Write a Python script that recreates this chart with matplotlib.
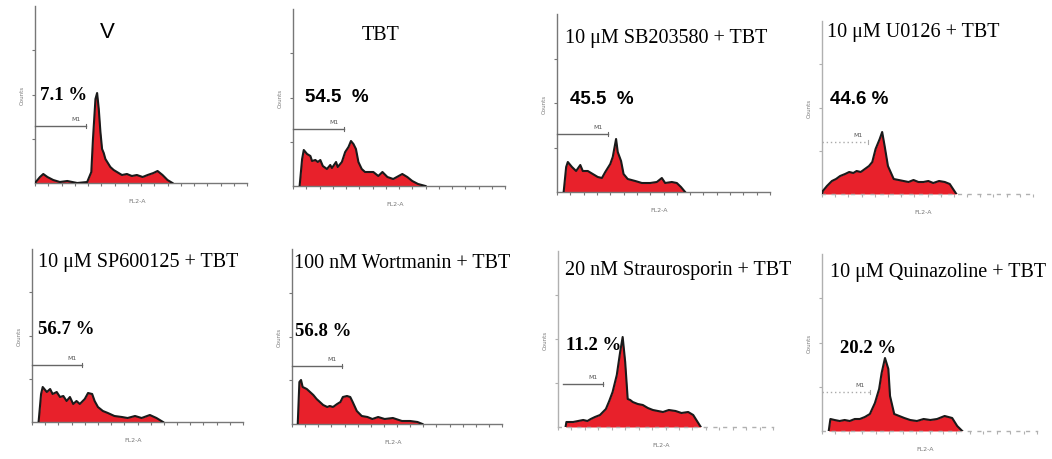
import matplotlib
matplotlib.use("Agg")
import matplotlib.pyplot as plt

# titles and gate percentages
titles = [
    "V", "TBT", "10 \u03bcM SB203580 + TBT", "10 \u03bcM U0126 + TBT",
    "10 \u03bcM SP600125 + TBT", "100 nM Wortmanin + TBT",
    "20 nM Straurosporin + TBT", "10 \u03bcM Quinazoline + TBT",
]
percents = ["7.1 %", "54.5  %", "45.5  %", "44.6 %",
            "56.7 %", "56.8 %", "11.2 %", "20.2 %"]

# FL2-A histograms: channel (0-256 bins) and counts
ch_v = [0, 6, 10, 15, 22, 30, 39, 51, 63, 68, 70, 73, 75, 77, 79, 81, 83, 85, 88, 91, 95, 99, 105, 111, 117, 123, 130, 136, 143, 148, 154, 160, 166]
ct_v = [0, 6, 9, 6, 3, 1, 2, 0, 1, 11, 44, 84, 90, 74, 51, 34, 30, 24, 20, 16, 13, 11, 8, 9, 7, 8, 6, 8, 10, 12, 8, 3, 0]

ch_tbt = [8, 11, 13, 17, 21, 23, 27, 30, 33, 36, 41, 45, 47, 52, 54, 59, 63, 67, 70, 73, 76, 79, 83, 87, 91, 97, 103, 108, 114, 121, 132, 138, 144, 151, 160]
ct_tbt = [0, 27, 36, 32, 30, 25, 26, 24, 26, 20, 17, 21, 18, 24, 19, 24, 34, 39, 45, 42, 37, 24, 17, 14, 14, 14, 10, 14, 9, 7, 12, 9, 5, 2, 0]

ch_sb = [8, 11, 13, 18, 23, 28, 31, 37, 43, 49, 54, 58, 64, 67, 71, 73, 77, 80, 85, 94, 102, 112, 120, 126, 130, 138, 144, 149, 154]
ct_sb = [0, 25, 30, 25, 21, 27, 21, 21, 18, 15, 14, 20, 28, 35, 53, 40, 31, 18, 13, 11, 9, 9, 10, 14, 9, 10, 9, 5, 0]

ch_u0 = [0, 1, 6, 12, 17, 22, 28, 33, 38, 42, 47, 52, 57, 61, 65, 70, 73, 76, 80, 87, 93, 99, 105, 111, 117, 123, 129, 135, 142, 149, 155, 163]
ct_u0 = [0, 3, 8, 13, 15, 18, 20, 22, 21, 23, 22, 25, 28, 32, 45, 55, 62, 48, 28, 15, 14, 13, 12, 14, 12, 12, 13, 11, 13, 12, 10, 0]

ch_sp = [8, 11, 13, 18, 22, 25, 30, 34, 38, 42, 46, 50, 54, 58, 64, 68, 73, 76, 80, 86, 92, 100, 109, 116, 125, 133, 143, 151, 159]
ct_sp = [0, 28, 35, 30, 33, 28, 30, 25, 26, 21, 25, 18, 21, 18, 23, 29, 28, 21, 15, 11, 9, 6, 5, 4, 6, 4, 7, 4, 0]

ch_wo = [7, 9, 11, 13, 18, 22, 26, 30, 34, 38, 43, 46, 50, 55, 59, 62, 67, 71, 74, 79, 85, 92, 98, 105, 113, 123, 134, 144, 153, 159]
ct_wo = [0, 42, 44, 37, 35, 32, 29, 25, 22, 19, 17, 18, 17, 20, 22, 27, 28, 27, 22, 13, 8, 7, 5, 7, 5, 6, 3, 3, 2, 0]

ch_st = [9, 10, 18, 24, 30, 35, 39, 44, 50, 57, 61, 65, 70, 74, 77, 80, 83, 86, 89, 95, 101, 107, 113, 119, 125, 132, 140, 147, 155, 161, 170]
ct_st = [0, 5, 5, 6, 7, 6, 8, 10, 12, 18, 26, 35, 52, 75, 90, 65, 28, 27, 25, 23, 22, 19, 17, 16, 15, 17, 16, 14, 15, 12, 0]

ch_qu = [8, 10, 15, 21, 27, 33, 39, 45, 51, 57, 63, 68, 71, 75, 79, 81, 86, 92, 98, 105, 113, 121, 129, 137, 146, 155, 161, 167]
ct_qu = [0, 12, 11, 10, 11, 10, 12, 12, 14, 17, 28, 42, 58, 73, 62, 35, 17, 15, 13, 11, 10, 12, 11, 12, 15, 13, 5, 0]

channels = [ch_v, ch_tbt, ch_sb, ch_u0, ch_sp, ch_wo, ch_st, ch_qu]
counts = [ct_v, ct_tbt, ct_sb, ct_u0, ct_sp, ct_wo, ct_st, ct_qu]

# M1 gate: start channel, end channel, drawn at count level
gate_lo = [0, 0, 0, 0, 0, 0, 6, 0]
gate_hi = [62, 62, 61, 56, 61, 61, 54, 57]
gate_level = [57, 57, 58, 52, 57, 58, 43, 39]
y_max = [177, 177, 178, 173, 173, 175, 176, 177]

W, H = 1052, 460
fig = plt.figure(figsize=(W / 100, H / 100), dpi=100)
fig.patch.set_facecolor("white")

# panel frames in pixels: left, right, top, baseline
boxes = [
    (35, 247, 7, 184), (293, 505, 10, 187), (557, 770, 15, 193), (822, 1033, 22, 195),
    (32, 243, 250, 423), (292, 502, 250, 425), (558, 773, 252, 428), (822, 1037, 255, 432),
]
title_pos = [(107, 33), (362, 35), (565, 38), (827, 33),
             (38, 263), (294, 264), (565, 270), (830, 272)]
pct_pos = [(40, 96), (305, 98), (570, 100), (830, 99),
           (38, 330), (295, 332), (566, 346), (840, 349)]
faint_axis = [False, False, False, True, False, False, True, True]
dotted_gate = [False, False, False, True, False, False, False, True]

for i in range(8):
    l, r, t, b = boxes[i]
    ax = fig.add_axes([l / W, 1 - b / H, (r - l) / W, (b - t) / H])
    ax.set_xlim(0, 256)
    ax.set_ylim(0, y_max[i])
    ax.fill_between(channels[i], counts[i], 0, color="#e8212b", linewidth=0, zorder=2)
    ax.plot(channels[i], counts[i], color="#1a1a1a", lw=1.5, zorder=3)

    for s in ["top", "right"]:
        ax.spines[s].set_visible(False)
    axis_col = "#b0b0b0" if faint_axis[i] else "#777777"
    ax.spines["left"].set_color(axis_col)
    ax.spines["bottom"].set_color(axis_col)
    ax.spines["left"].set_linewidth(1.0)
    ax.spines["bottom"].set_linewidth(1.0)
    if faint_axis[i]:
        ax.spines["bottom"].set_linestyle((0, (2, 5)))
    ax.set_xticks(range(0, 257, 16))
    ax.set_yticks([y_max[i] * k / 4 for k in range(1, 4)])
    ax.tick_params(axis="both", length=2, width=0.8, color=axis_col,
                   labelbottom=False, labelleft=False)
    ax.set_facecolor("none")

    # M1 marker
    ls = (0, (1, 2)) if dotted_gate[i] else "-"
    gcol = "#aaaaaa" if dotted_gate[i] else "#666666"
    ax.plot([gate_lo[i], gate_hi[i]], [gate_level[i], gate_level[i]],
            color=gcol, lw=1.0, ls=ls, zorder=4, clip_on=False)
    ax.plot([gate_hi[i], gate_hi[i]], [gate_level[i] - 2, gate_level[i] + 2],
            color=gcol, lw=0.8, zorder=4, clip_on=False)
    ax.text(gate_hi[i] - 12, gate_level[i] + 5, "M1", fontsize=4.5, color="#555555",
            ha="center", va="bottom")

    ax.text(-0.06, 0.5, "Counts", transform=ax.transAxes, rotation=90,
            fontsize=4, color="#777777", ha="center", va="center")
    ax.text(0.48, -0.1, "FL2-A", transform=ax.transAxes,
            fontsize=4.5, color="#777777", ha="center", va="center")

    tx, ty = title_pos[i]
    if i == 0:
        fig.text(tx / W, 1 - ty / H, titles[i], fontsize=16, family="Liberation Sans",
                 ha="center", va="center")
    else:
        fig.text(tx / W, 1 - ty / H, titles[i], fontsize=14.5, family="Liberation Serif",
                 ha="left", va="center")
    px, py = pct_pos[i]
    fam = "Liberation Sans" if i in (1, 2, 3) else "Liberation Serif"
    fig.text(px / W, 1 - py / H, percents[i], fontsize=13.5, family=fam,
             weight="bold", ha="left", va="center")

fig.savefig("out.png", dpi=100, facecolor="white")
